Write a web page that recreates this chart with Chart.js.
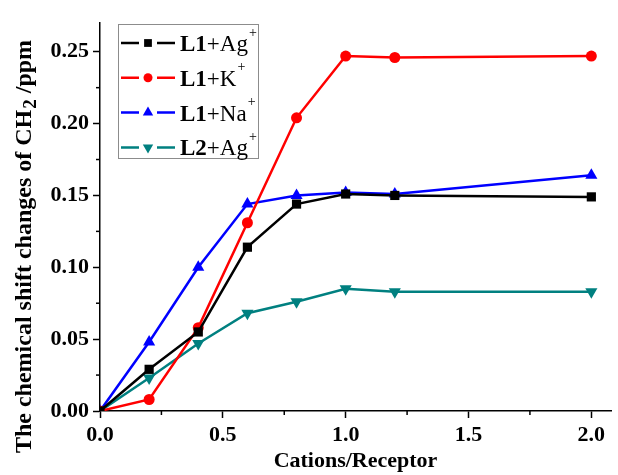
<!DOCTYPE html>
<html>
<head>
<meta charset="utf-8">
<script src="https://cdn.jsdelivr.net/npm/chart.js@4/dist/chart.umd.min.js"></script>
<style>
  html, body { margin: 0; padding: 0; background: #fff; }
  #wrap { width: 618px; height: 475px; }
</style>
</head>
<body>
<div id="wrap"><canvas id="shiftChart" width="618" height="475"></canvas></div>
<script>
// ratio of cation to receptor
const ratios = [0, 0.2, 0.4, 0.6, 0.8, 1.0, 1.2, 2.0];

// chemical shift changes of CH2 (ppm)
const l1Ag = [0, 0.029, 0.055, 0.114, 0.144, 0.151, 0.150, 0.149];
const l1K  = [0, 0.008, 0.058, 0.131, 0.204, 0.247, 0.246, 0.247];
const l1Na = [0, 0.048, 0.100, 0.144, 0.150, 0.152, 0.151, 0.164];
const l2Ag = [0, 0.023, 0.047, 0.068, 0.076, 0.085, 0.083, 0.083];

// legend text parts: bold ligand, plain cation, superscript charge
const ligands = ["L1", "L1", "L1", "L2"];
const cations = ["Ag", "K", "Na", "Ag"];

const xTicks = [0, 0.5, 1.0, 1.5, 2.0];
const xMinor = [0.25, 0.75, 1.25, 1.75];
const yTicks = [0, 0.05, 0.10, 0.15, 0.20, 0.25];
const yMinor = [0.025, 0.075, 0.125, 0.175, 0.225];

const serif = "'Liberation Serif', 'Times New Roman', serif";

function pts(ys) {
  return ratios.map((x, i) => ({ x: x, y: ys[i] }));
}

function series(label, ys, color, style, radius, rotation) {
  return {
    label: label,
    data: pts(ys),
    borderColor: color,
    backgroundColor: color,
    borderWidth: 2.5,
    pointStyle: style,
    pointRadius: radius,
    pointRotation: rotation || 0,
    pointBorderWidth: 0,
    pointHoverRadius: radius,
    tension: 0
  };
}

// minor ticks, y title with subscript, and the boxed legend
const extrasPlugin = {
  id: "extras",
  afterDraw(chart) {
    const ctx = chart.ctx;
    const xs = chart.scales.x, ys = chart.scales.y;
    const area = chart.chartArea;
    ctx.save();
    ctx.strokeStyle = "#000";
    ctx.lineWidth = 1.5;
    xMinor.forEach(v => {
      const px = xs.getPixelForValue(v);
      ctx.beginPath();
      ctx.moveTo(px, area.bottom);
      ctx.lineTo(px, area.bottom + 4);
      ctx.stroke();
    });
    yMinor.forEach(v => {
      const py = ys.getPixelForValue(v);
      ctx.beginPath();
      ctx.moveTo(area.left, py);
      ctx.lineTo(area.left - 4, py);
      ctx.stroke();
    });

    // y axis title
    ctx.translate(25, 247);
    ctx.rotate(-Math.PI / 2);
    ctx.fillStyle = "#000";
    ctx.textBaseline = "middle";
    const main = "The chemical shift changes of CH";
    const sub = "2";
    const tail = " /ppm";
    ctx.font = "bold 24px " + serif;
    const w1 = ctx.measureText(main).width;
    ctx.font = "bold 19px " + serif;
    const w2 = ctx.measureText(sub).width;
    ctx.font = "bold 24px " + serif;
    const w3 = ctx.measureText(tail).width;
    let x0 = -(w1 + w2 + w3) / 2;
    ctx.fillText(main, x0, 0);
    ctx.font = "bold 19px " + serif;
    ctx.fillText(sub, x0 + w1 + 1, 6);
    ctx.font = "bold 24px " + serif;
    ctx.fillText(tail, x0 + w1 + w2 + 1, 0);
    ctx.restore();

    // legend
    ctx.save();
    const bx = 118, by = 24, bw = 140, bh = 134;
    ctx.fillStyle = "#fff";
    ctx.fillRect(bx, by, bw, bh);
    ctx.strokeStyle = "#8c8c8c";
    ctx.lineWidth = 1;
    ctx.strokeRect(bx + 0.5, by + 0.5, bw, bh);
    chart.data.datasets.forEach((ds, i) => {
      const cy = by + 19 + i * 34.8;
      ctx.strokeStyle = ds.borderColor;
      ctx.lineWidth = 2.5;
      ctx.beginPath();
      ctx.moveTo(121, cy); ctx.lineTo(139, cy);
      ctx.moveTo(157, cy); ctx.lineTo(175, cy);
      ctx.stroke();
      ctx.fillStyle = ds.borderColor;
      Chart.helpers.drawPoint(ctx, {
        pointStyle: ds.pointStyle,
        radius: ds.pointRadius - 1,
        rotation: ds.pointRotation,
        borderWidth: 0
      }, 148, cy);
      ctx.fillStyle = "#000";
      ctx.textBaseline = "middle";
      ctx.font = "bold 23px " + serif;
      let tx = 180;
      ctx.fillText(ligands[i], tx, cy + 2);
      tx += ctx.measureText(ligands[i]).width;
      ctx.font = "23px " + serif;
      const rest = "+" + cations[i];
      ctx.fillText(rest, tx, cy + 2);
      tx += ctx.measureText(rest).width;
      ctx.font = "14px " + serif;
      ctx.fillText("+", tx + 1, cy - 10);
    });
    ctx.restore();
  }
};

new Chart(document.getElementById("shiftChart").getContext("2d"), {
  type: "line",
  data: {
    datasets: [
      series("L1+Ag+", l1Ag, "#000000", "rect", 6.5),
      series("L1+K+", l1K, "#ff0000", "circle", 5.5),
      series("L1+Na+", l1Na, "#0000ff", "triangle", 7),
      series("L2+Ag+", l2Ag, "#008080", "triangle", 7, 180)
    ]
  },
  options: {
    responsive: false,
    animation: false,
    layout: { padding: { top: 23, right: 0, left: 0, bottom: 0 } },
    plugins: {
      legend: { display: false },
      tooltip: { enabled: false }
    },
    scales: {
      x: {
        type: "linear",
        min: 0,
        max: 2.08,
        afterBuildTicks: s => { s.ticks = xTicks.map(v => ({ value: v })); },
        afterFit: s => { s.height = 64; },
        grid: { drawOnChartArea: false, tickLength: 7, tickWidth: 1.5, tickColor: "#000" },
        border: { color: "#000", width: 1.5 },
        ticks: {
          color: "#000",
          padding: 4,
          maxRotation: 0,
          font: { family: serif, size: 22, weight: "bold" },
          callback: v => v.toFixed(1)
        },
        title: {
          display: true,
          text: "Cations/Receptor",
          color: "#000",
          padding: { top: 0, bottom: 0 },
          font: { family: serif, size: 22, weight: "bold" }
        }
      },
      y: {
        type: "linear",
        min: 0,
        max: 0.27,
        afterBuildTicks: s => { s.ticks = yTicks.map(v => ({ value: v })); },
        afterFit: s => { s.width = 100; },
        grid: { drawOnChartArea: false, tickLength: 7, tickWidth: 1.5, tickColor: "#000" },
        border: { color: "#000", width: 1.5 },
        ticks: {
          color: "#000",
          padding: 4,
          font: { family: serif, size: 22, weight: "bold" },
          callback: v => v.toFixed(2)
        }
      }
    }
  },
  plugins: [extrasPlugin]
});
</script>
</body>
</html>
